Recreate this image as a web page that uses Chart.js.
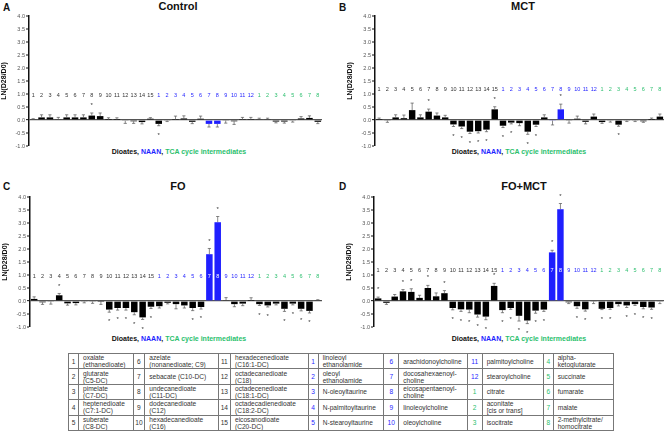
<!DOCTYPE html>
<html>
<head>
<meta charset="utf-8">
<script src="https://cdn.jsdelivr.net/npm/chart.js"></script>
<style>
  body { margin: 0; width: 669px; height: 433px; background: #fff; position: relative; overflow: hidden;
         font-family: "Liberation Sans", Arial, sans-serif; }
  .panel { position: absolute; }
  .letter { position: absolute; font-weight: bold; font-size: 10px; line-height: 10px; color: #111; }
  .title { position: absolute; font-weight: bold; font-size: 11px; line-height: 11px; transform: translateX(-50%); white-space: nowrap; color: #111; }
  .foot { position: absolute; font-weight: bold; font-size: 7px; line-height: 7px; transform: translateX(-50%); white-space: nowrap; color: #111; }
  .blue { color: #1f1fff; }
  .green { color: #2cbf6e; }
  table { position: absolute; left: 68px; top: 353px; width: 545px; height: 78px; border-collapse: collapse;
          table-layout: fixed; font-size: 6.6px; color: #333; border: 1.2px solid #333; }
  td { border: 0.8px solid #777; padding: 0 0 0 4px; line-height: 7px; vertical-align: middle; height: 12px;
       overflow: hidden; white-space: pre; }
  td.n { text-align: center; padding: 0; }
</style>
</head>
<body>

<div class="letter" style="left:3px;top:3px">A</div>
<div class="letter" style="left:339px;top:3px">B</div>
<div class="letter" style="left:3px;top:182px">C</div>
<div class="letter" style="left:339px;top:182px">D</div>

<div class="title" style="left:178px;top:1px">Control</div>
<div class="title" style="left:523px;top:1px">MCT</div>
<div class="title" style="left:178px;top:181px">FO</div>
<div class="title" style="left:524px;top:181px">FO+MCT</div>

<div class="foot" style="left:179px;top:148px">Dioates, <span class="blue">NAAN</span>, <span class="green">TCA cycle intermediates</span></div>
<div class="foot" style="left:519px;top:148px">Dioates, <span class="blue">NAAN</span>, <span class="green">TCA cycle intermediates</span></div>
<div class="foot" style="left:179px;top:335px">Dioates, <span class="blue">NAAN</span>, <span class="green">TCA cycle intermediates</span></div>
<div class="foot" style="left:519px;top:335px">Dioates, <span class="blue">NAAN</span>, <span class="green">TCA cycle intermediates</span></div>

<div id="panels"></div>
<table id="legend">
  <colgroup>
    <col style="width:10px"><col style="width:54.5px">
    <col style="width:11.8px"><col style="width:73.4px">
    <col style="width:12.3px"><col style="width:77.7px">
    <col style="width:10px"><col style="width:65.6px">
    <col style="width:15px"><col style="width:68.4px">
    <col style="width:15px"><col style="width:61.6px">
    <col style="width:9.4px"><col style="width:60px">
  </colgroup>
  <tbody></tbody>
</table>

<script>
// category names (numbered 1..n inside each group); \n marks the line break used in the key table
const dioateNames = ['oxalate\n(ethanedioate)', 'glutarate\n(C5-DC)', 'pimelate\n(C7-DC)', 'heptenedioate\n(C7:1-DC)',
  'suberate\n(C8-DC)', 'azelate\n(nonanedioate; C9)', 'sebacate (C10-DC)', 'undecanedioate\n(C11-DC)',
  'dodecanedioate\n(C12)', 'hexadecanedioate\n(C16)', 'hexadecenedioate\n(C16:1-DC)', 'octadecanedioate\n(C18)',
  'octadecenedioate\n(C18:1-DC)', 'octadecadienedioate\n(C18:2-DC)', 'eicosanodioate\n(C20-DC)'];
const naanNames = ['linoleoyl\nethanolamide', 'oleoyl\nethanolamide', 'N-oleoyltaurine', 'N-palmitoyltaurine',
  'N-stearoyltaurine', 'arachidonoylcholine', 'docosahexaenoyl-\ncholine', 'eicosapentaenoyl-\ncholine',
  'linoleoylcholine', 'oleoylcholine', 'palmitoylcholine', 'stearoylcholine'];
const tcaNames = ['citrate', 'aconitate\n[cis or trans]', 'isocitrate', 'alpha-\nketoglutarate', 'succinate',
  'fumarate', 'malate', '2-methylcitrate/\nhomocitrate'];

const yTicks = [-1.0, -0.5, 0.0, 0.5, 1.0, 1.5, 2.0, 2.5, 3.0, 3.5, 4.0];

// LN(D28/D0): 15 dioates, 12 NAAN, 8 TCA
const controlMean = [0.02, 0.1, 0.1, 0.03, 0.1, 0.1, 0.1, 0.17, 0.15, 0.005, 0.005, -0.03, -0.05, -0.08, 0.05,
  -0.15, -0.02, 0.01, 0.06, -0.07, 0.05, -0.15, -0.15, -0.02, -0.05, 0.01, 0.01,
  0.02, 0.02, -0.06, -0.06, -0.03, 0.06, 0.08, -0.07];
const controlSem = [0.03, 0.1, 0.1, 0.07, 0.1, 0.1, 0.1, 0.1, 0.12, 0.08, 0.08, 0.1, 0.08, 0.07, 0.04,
  0.07, 0.04, 0.14, 0.1, 0.07, 0.1, 0.12, 0.12, 0.1, 0.12, 0.09, 0.09,
  0.05, 0.05, 0.05, 0.06, 0.05, 0.07, 0.08, 0.07];
const controlSig = [0, 0, 0, 0, 0, 0, 0, 1, 0, 0, 0, 0, 0, 0, 0,
  1, 0, 0, 0, 0, 0, 0, 0, 0, 0, 0, 0,
  0, 0, 0, 0, 0, 0, 0, 0];

const mctMean = [0.005, -0.02, 0.1, 0.07, 0.38, 0.1, 0.32, 0.17, 0.1, -0.17, -0.25, -0.45, -0.43, -0.37, 0.41,
  -0.22, -0.1, -0.12, -0.45, -0.18, 0.1, -0.02, 0.41, -0.02, 0.05, -0.07, 0.13,
  -0.08, -0.03, -0.18, -0.02, -0.02, -0.05, 0.005, 0.13];
const mctSem = [0.07, 0.07, 0.1, 0.12, 0.27, 0.1, 0.1, 0.1, 0.08, 0.08, 0.08, 0.07, 0.07, 0.08, 0.1,
  0.07, 0.05, 0.1, 0.1, 0.07, 0.1, 0.17, 0.2, 0.1, 0.1, 0.08, 0.1,
  0.05, 0.05, 0.06, 0.04, 0.04, 0.04, 0.07, 0.1];
const mctSig = [0, 0, 0, 0, 0, 0, 1, 0, 0, 1, 1, 1, 1, 1, 1,
  1, 1, 0, 1, 1, 0, 0, 1, 0, 0, 0, 0,
  0, 0, 1, 0, 0, 0, 0, 0];

const foMean = [0.08, -0.05, -0.02, 0.22, -0.09, -0.08, -0.02, -0.02, -0.01, -0.33, -0.27, -0.27, -0.43, -0.63, -0.22,
  -0.2, -0.07, -0.12, -0.17, -0.27, -0.23, 1.8, 3.03, 0.03, -0.12, -0.1, 0.005,
  -0.12, -0.17, -0.1, -0.3, -0.1, -0.3, -0.38, 0.02];
const foSem = [0.08, 0.08, 0.1, 0.07, 0.07, 0.07, 0.05, 0.07, 0.12, 0.1, 0.08, 0.08, 0.1, 0.08, 0.07,
  0.07, 0.04, 0.18, 0.1, 0.1, 0.08, 0.22, 0.22, 0.1, 0.1, 0.08, 0.12,
  0.05, 0.06, 0.05, 0.1, 0.05, 0.08, 0.08, 0.03];
const foSig = [0, 0, 0, 1, 0, 0, 0, 0, 0, 1, 1, 1, 1, 1, 1,
  0, 0, 0, 0, 1, 1, 1, 1, 0, 0, 0, 0,
  1, 1, 0, 1, 1, 1, 1, 0];

const foMctMean = [0.1, -0.07, 0.17, 0.37, 0.35, 0.12, 0.5, 0.18, 0.3, -0.27, -0.32, -0.33, -0.52, -0.6, 0.58,
  -0.35, -0.27, -0.57, -0.75, -0.37, -0.33, 1.87, 3.53, -0.05, -0.2, -0.32, -0.02,
  -0.3, -0.27, -0.12, -0.17, -0.12, -0.23, -0.25, -0.03];
const foMctSem = [0.05, 0.06, 0.08, 0.07, 0.12, 0.1, 0.1, 0.13, 0.1, 0.07, 0.08, 0.12, 0.1, 0.12, 0.1,
  0.1, 0.05, 0.2, 0.12, 0.1, 0.07, 0.08, 0.22, 0.05, 0.08, 0.07, 0.08,
  0.03, 0.05, 0.07, 0.08, 0.05, 0.07, 0.07, 0.07];
const foMctSig = [1, 0, 0, 1, 1, 0, 1, 0, 1, 1, 1, 1, 1, 1, 1,
  1, 1, 1, 1, 1, 1, 1, 1, 0, 1, 1, 0,
  1, 1, 0, 1, 1, 1, 1, 0];

const BLUE = '#1f1fff', GREEN = '#2cbf6e', DARK = '#333';

const cats = [].concat(
  dioateNames.map((n, i) => ({ group: 'd', num: i + 1, name: n })),
  naanNames.map((n, i) => ({ group: 'n', num: i + 1, name: n })),
  tcaNames.map((n, i) => ({ group: 't', num: i + 1, name: n }))
);
const groupColor = g => g === 'n' ? BLUE : g === 't' ? GREEN : DARK;

const panels = [
  { mean: controlMean, sem: controlSem, sig: controlSig, axisX: 29, right: 322, top: 16, bottom: 146, labelAt: 0.95 },
  { mean: mctMean, sem: mctSem, sig: mctSig, axisX: 375, right: 664, top: 16, bottom: 146, labelAt: 1.18 },
  { mean: foMean, sem: foSem, sig: foSig, axisX: 30, right: 322, top: 197, bottom: 327, labelAt: 0.95 },
  { mean: foMctMean, sem: foMctSem, sig: foMctSig, axisX: 374, right: 664, top: 197, bottom: 327, labelAt: 1.18 }
];

// error bars, asterisks and the numbered labels
const extrasPlugin = {
  id: 'extras',
  afterDatasetsDraw(chart) {
    const p = chart.options.plugins.extras;
    const ctx = chart.ctx, xs = chart.scales.x, ys = chart.scales.y;
    ctx.save();
    p.mean.forEach((v, i) => {
      const x = xs.getPixelForValue(i);
      const dir = v >= 0 ? 1 : -1;
      const y1 = ys.getPixelForValue(v), y2 = ys.getPixelForValue(v + dir * p.sem[i]);
      ctx.strokeStyle = '#555';
      ctx.lineWidth = 0.7;
      ctx.beginPath();
      ctx.moveTo(x, y1); ctx.lineTo(x, y2);
      ctx.moveTo(x - 1.6, y2); ctx.lineTo(x + 1.6, y2);
      ctx.stroke();
      if (p.sig[i]) {
        ctx.fillStyle = '#333';
        ctx.font = '6px "Liberation Sans", Arial';
        ctx.textAlign = 'center';
        ctx.textBaseline = 'middle';
        ctx.fillText('*', x, ys.getPixelForValue(v + dir * (p.sem[i] + 0.33)) + 1);
      }
      const c = cats[i];
      ctx.fillStyle = v > p.labelAt ? '#fff' : groupColor(c.group);
      ctx.font = '5.5px "Liberation Sans", Arial';
      ctx.textAlign = 'center';
      ctx.textBaseline = 'middle';
      ctx.fillText(String(c.num), x, ys.getPixelForValue(p.labelAt));
    });
    ctx.restore();
  }
};

const holder = document.getElementById('panels');
panels.forEach(pn => {
  const left = pn.axisX - 29, top = pn.top - 16;
  const w = pn.right + 8 - left, h = pn.bottom + 14 - top;
  const div = document.createElement('div');
  div.className = 'panel';
  div.style.left = left + 'px';
  div.style.top = top + 'px';
  const cv = document.createElement('canvas');
  cv.width = w; cv.height = h;
  cv.style.width = w + 'px'; cv.style.height = h + 'px';
  div.appendChild(cv);
  holder.appendChild(div);

  new Chart(cv.getContext('2d'), {
    type: 'bar',
    data: {
      labels: cats.map(c => String(c.num)),
      datasets: [{
        data: pn.mean,
        backgroundColor: cats.map(c => c.group === 'n' && (c.num === 7 || c.num === 8) ? BLUE : '#000'),
        borderWidth: 0,
        barPercentage: 0.78,
        categoryPercentage: 1
      }]
    },
    options: {
      responsive: false,
      animation: false,
      layout: { padding: { left: 0, top: 16, right: 8, bottom: 14 } },
      plugins: {
        legend: { display: false },
        tooltip: { enabled: false },
        extras: { mean: pn.mean, sem: pn.sem, sig: pn.sig, labelAt: pn.labelAt }
      },
      scales: {
        x: { display: false, offset: true },
        y: {
          min: yTicks[0],
          max: yTicks[yTicks.length - 1],
          afterBuildTicks: s => { s.ticks = yTicks.map(v => ({ value: v })); },
          afterFit: s => { s.width = 29; },
          ticks: {
            callback: v => Number(v).toFixed(1),
            font: { size: 5.5, family: '"Liberation Sans", Arial' },
            color: '#555',
            padding: 1
          },
          grid: {
            color: c => (c.tick && c.tick.value === 0) ? '#555' : 'rgba(0,0,0,0)',
            lineWidth: c => (c.tick && c.tick.value === 0) ? 1.3 : 0,
            tickColor: '#111',
            tickWidth: 1,
            tickLength: 3
          },
          border: { display: true, color: '#111', width: 1.5 },
          title: {
            display: true,
            text: 'LN(D28/D0)',
            font: { size: 7, weight: 'bold', family: '"Liberation Sans", Arial' },
            color: '#111',
            padding: 0
          }
        }
      }
    },
    plugins: [extrasPlugin]
  });
});

// key table: 7 column pairs of 5 entries
const tbody = document.querySelector('#legend tbody');
for (let r = 0; r < 5; r++) {
  const tr = document.createElement('tr');
  for (let c = 0; c < 7; c++) {
    const e = cats[c * 5 + r];
    const tdN = document.createElement('td');
    tdN.className = 'n';
    tdN.textContent = e.num;
    tdN.style.color = e.group === 'd' ? '#333' : groupColor(e.group);
    const tdT = document.createElement('td');
    tdT.textContent = e.name;
    tr.appendChild(tdN);
    tr.appendChild(tdT);
  }
  tbody.appendChild(tr);
}
</script>
</body>
</html>
